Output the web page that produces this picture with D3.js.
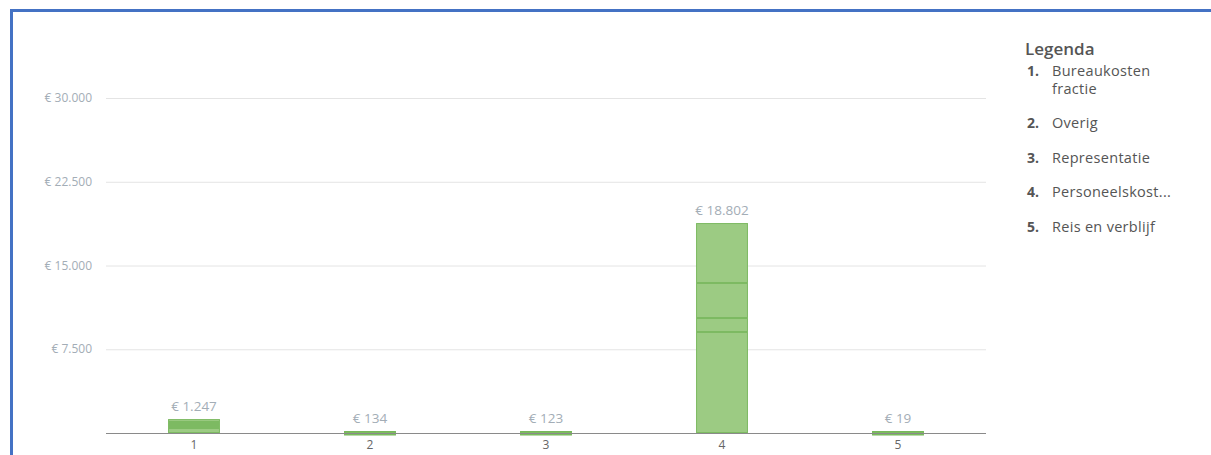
<!DOCTYPE html>
<html>
<head>
<meta charset="utf-8">
<script src="https://cdn.jsdelivr.net/npm/d3@7"></script>
<style>
  body { margin: 0; background: #fff; font-family: "Open Sans", sans-serif; }
</style>
</head>
<body>
<div id="chart"></div>
<script>
"use strict";

// categories on the x axis
var categories = ["1", "2", "3", "4", "5"];
// legend names, one per category
var legendNames = ["Bureaukosten\nfractie", "Overig", "Representatie", "Personeelskost...", "Reis en verblijf"];
// stacked parts of each bar (euro)
var barParts1 = [448, 179, 179, 179, 262];
var barParts2 = [134];
var barParts3 = [123];
var barParts4 = [9045, 1253, 3135, 5369];
var barParts5 = [19];
var yTicks = [7500, 15000, 22500, 30000];

var allParts = [barParts1, barParts2, barParts3, barParts4, barParts5];

var width = 1211, height = 455;

var svg = d3.select("#chart").append("svg")
    .attr("width", width)
    .attr("height", height);

var nl = d3.formatLocale({decimal: ",", thousands: ".", grouping: [3], currency: ["€ ", ""]});
var euro = nl.format("$,.0f");

var x = d3.scaleBand()
    .domain(categories)
    .range([106, 986])
    .paddingInner(0.705)
    .paddingOuter(0.3525);

var y = d3.scaleLinear()
    .domain([0, 30000])
    .range([433, 98]);

// grid lines
svg.append("g").selectAll("line")
    .data(yTicks)
    .enter().append("line")
    .attr("x1", 106).attr("x2", 986)
    .attr("y1", function (d) { return y(d) + 0.5; })
    .attr("y2", function (d) { return y(d) + 0.5; })
    .attr("stroke", "#e4e4e4");

// y tick labels
svg.append("g").selectAll("text")
    .data(yTicks)
    .enter().append("text")
    .attr("x", 92)
    .attr("y", function (d) { return y(d) + 4; })
    .attr("text-anchor", "end")
    .style("font-size", "12px")
    .style("fill", "#a3adb6")
    .text(function (d) { return euro(d); });

// stacked bars
var bars = svg.append("g");
allParts.forEach(function (parts, i) {
    var cat = categories[i];
    var total = d3.sum(parts);
    if (y(0) - y(total) < 3) {
        // tiny bar: keep it visible as a thin strip on the axis
        bars.append("rect")
            .attr("x", x(cat) + 0.5)
            .attr("y", y(0) - 1.5)
            .attr("width", x.bandwidth() - 1)
            .attr("height", 3.5)
            .attr("fill", "#7cbd5f")
            .attr("stroke", "#77b85a");
    } else {
        var acc = 0;
        parts.forEach(function (v) {
            var top = y(acc + v), bottom = y(acc);
            bars.append("rect")
                .attr("x", x(cat) + 0.5)
                .attr("y", top + 0.5)
                .attr("width", x.bandwidth() - 1)
                .attr("height", Math.max(bottom - top - 1, 0.5))
                .attr("fill", "#9ccb83")
                .attr("stroke", "#7dba62")
                .attr("stroke-width", 1);
            acc += v;
        });
    }
    svg.append("text")
        .attr("x", x(cat) + x.bandwidth() / 2)
        .attr("y", Math.min(y(total), 431) - 8)
        .attr("text-anchor", "middle")
        .style("font-size", "13.5px")
        .style("fill", "#a3adb6")
        .text(euro(total));
});

// x axis line
svg.append("line")
    .attr("x1", 106).attr("x2", 986)
    .attr("y1", 433.5).attr("y2", 433.5)
    .attr("stroke", "#8a8a8a")
    .attr("stroke-width", 1.2);

// x tick labels
svg.append("g").selectAll("text")
    .data(categories)
    .enter().append("text")
    .attr("x", function (d) { return x(d) + x.bandwidth() / 2; })
    .attr("y", 449)
    .attr("text-anchor", "middle")
    .style("font-size", "12px")
    .style("fill", "#666")
    .text(function (d) { return d; });

// legend
var legend = svg.append("g");
legend.append("text")
    .attr("x", 1025).attr("y", 55)
    .style("font-size", "17px")
    .style("font-weight", 600)
    .style("fill", "#555")
    .text("Legenda");

legendNames.forEach(function (name, i) {
    var by = 78 + i * 34.5 + (i > 0 ? 15.5 : 0);
    var lines = name.split("\n");
    var first = lines.length > 1 ? by - 2 : by;
    legend.append("text")
        .attr("x", 1027).attr("y", first)
        .style("font-size", "14px")
        .style("font-weight", 700)
        .style("fill", "#555")
        .text((i + 1) + ".");
    lines.forEach(function (line, j) {
        legend.append("text")
            .attr("x", 1052).attr("y", first + j * 18)
            .style("font-size", "14.5px")
            .style("letter-spacing", "0.3px")
            .style("fill", "#555")
            .text(line);
    });
});

// blue frame (top and left)
svg.append("path")
    .attr("d", "M11.5,455 L11.5,10.5 L1211,10.5")
    .attr("fill", "none")
    .attr("stroke", "#4472c4")
    .attr("stroke-width", 3);
</script>
</body>
</html>
